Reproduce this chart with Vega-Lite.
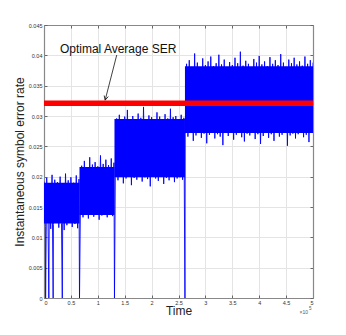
{
 "$schema": "https://vega.github.io/schema/vega-lite/v6.json",
 "width": 269, "height": 273,
 "autosize": "none",
 "padding": {"left": 44, "top": 25, "right": 33, "bottom": 37},
 "background": "white",
 "config": {"font": "Liberation Sans", "view": {"stroke": null}},
 "resolve": {"axis": {"x": "independent", "y": "independent"}},
 "layer": [
  {
   "data": {"values": [
    {"a": 0, "b": 66000, "lo": 0.0123, "hi": 0.0190},
    {"a": 66000, "b": 131000, "lo": 0.0137, "hi": 0.0216},
    {"a": 131000, "b": 262000, "lo": 0.0199, "hi": 0.0295},
    {"a": 262000, "b": 500000, "lo": 0.0272, "hi": 0.0382}
   ]},
   "mark": {"type": "rect", "color": "#0000ff"},
   "encoding": {
    "x": {"field": "a", "type": "quantitative",
     "scale": {"domain": [0, 500000], "nice": false, "zero": false},
     "axis": {"orient": "bottom", "values": [0,50000,100000,150000,200000,250000,300000,350000,400000,450000,500000],
      "labelExpr": "'' + (datum.value / 100000)", "grid": true, "gridColor": "#e4e4e4", "gridWidth": 1,
      "tickSize": -3, "tickColor": "#666", "domainColor": "#888", "domainWidth": 1.2, "labelPadding": 5,
      "labelFontSize": 5.5, "labelColor": "#333", "labelFont": "Liberation Sans",
      "title": "Time", "titleFontSize": 12, "titleFontWeight": "normal", "titleColor": "#222", "titlePadding": 0, "titleFont": "Liberation Sans"}},
    "x2": {"field": "b"},
    "y": {"field": "lo", "type": "quantitative",
     "scale": {"domain": [0, 0.045], "nice": false},
     "axis": {"orient": "left", "values": [0,0.005,0.01,0.015,0.02,0.025,0.03,0.035,0.04,0.045], "format": "~g",
      "grid": true, "gridColor": "#e4e4e4", "gridWidth": 1,
      "tickSize": -3, "tickColor": "#666", "domainColor": "#888", "domainWidth": 1.2, "labelPadding": 5,
      "labelFontSize": 5.5, "labelColor": "#333", "labelFont": "Liberation Sans",
      "title": "Instantaneous symbol error rate", "titleFontSize": 12, "titleFontWeight": "normal", "titleColor": "#222", "titlePadding": 2, "titleFont": "Liberation Sans"}},
    "y2": {"field": "hi"}
   }
  },
  {
   "data": {"values": [
    {"t":0,"v":0.0192},{"t":2500,"v":0.0118},{"t":3000,"v":0},{"t":5000,"v":0.0198},{"t":7500,"v":0.0125},{"t":9000,"v":0},{"t":10000,"v":0.0189},{"t":12500,"v":0.0114},{"t":15000,"v":0.0203},{"t":17000,"v":0},{"t":17500,"v":0.0121},{"t":20000,"v":0.0195},{"t":22500,"v":0.0128},{"t":25000,"v":0.0191},{"t":27500,"v":0.0116},{"t":30000,"v":0.0200},{"t":32500,"v":0.0123},{"t":34000,"v":0},{"t":35000,"v":0.0187},{"t":37500,"v":0.0112},{"t":40000,"v":0.0205},{"t":42500,"v":0.0120},{"t":45000,"v":0.0194},{"t":47500,"v":0.0126},{"t":50000,"v":0.0199},{"t":52500,"v":0.0117},{"t":55000,"v":0.0190},{"t":57500,"v":0.0122},{"t":60000,"v":0.0202},{"t":62500,"v":0.0115},{"t":65000,"v":0.0196},{"t":66000,"v":0},
    {"t":67500,"v":0.0137},{"t":70000,"v":0.0218},{"t":72500,"v":0.0133},{"t":75000,"v":0.0226},{"t":77500,"v":0.0140},{"t":80000,"v":0.0214},{"t":82500,"v":0.0131},{"t":85000,"v":0.0232},{"t":87500,"v":0.0138},{"t":90000,"v":0.0220},{"t":92500,"v":0.0134},{"t":95000,"v":0.0224},{"t":97500,"v":0.0142},{"t":100000,"v":0.0217},{"t":102500,"v":0.0129},{"t":105000,"v":0.0235},{"t":107500,"v":0.0136},{"t":110000,"v":0.0221},{"t":112500,"v":0.0139},{"t":115000,"v":0.0228},{"t":117500,"v":0.0133},{"t":120000,"v":0.0219},{"t":122500,"v":0.0141},{"t":125000,"v":0.0230},{"t":127500,"v":0.0135},{"t":130000,"v":0.0223},{"t":131000,"v":0},
    {"t":132500,"v":0.0199},{"t":135000,"v":0.0296},{"t":137500,"v":0.0194},{"t":140000,"v":0.0302},{"t":142500,"v":0.0201},{"t":145000,"v":0.0293},{"t":147500,"v":0.0189},{"t":150000,"v":0.0299},{"t":152500,"v":0.0197},{"t":155000,"v":0.0310},{"t":157500,"v":0.0203},{"t":160000,"v":0.0295},{"t":162500,"v":0.0186},{"t":165000,"v":0.0300},{"t":167500,"v":0.0198},{"t":170000,"v":0.0291},{"t":172500,"v":0.0195},{"t":175000,"v":0.0304},{"t":177500,"v":0.0200},{"t":180000,"v":0.0297},{"t":182500,"v":0.0192},{"t":185000,"v":0.0315},{"t":187500,"v":0.0199},{"t":190000,"v":0.0294},{"t":192500,"v":0.0196},{"t":195000,"v":0.0301},{"t":197500,"v":0.0184},{"t":200000,"v":0.0298},{"t":202500,"v":0.0202},{"t":205000,"v":0.0292},{"t":207500,"v":0.0197},{"t":210000,"v":0.0306},{"t":212500,"v":0.0193},{"t":215000,"v":0.0299},{"t":217500,"v":0.0200},{"t":220000,"v":0.0295},{"t":222500,"v":0.0188},{"t":225000,"v":0.0303},{"t":227500,"v":0.0198},{"t":230000,"v":0.0296},{"t":232500,"v":0.0194},{"t":235000,"v":0.0312},{"t":237500,"v":0.0201},{"t":240000,"v":0.0298},{"t":242500,"v":0.0191},{"t":245000,"v":0.0300},{"t":247500,"v":0.0197},{"t":250000,"v":0.0293},{"t":252500,"v":0.0199},{"t":255000,"v":0.0302},{"t":257500,"v":0.0195},{"t":260000,"v":0.0297},{"t":262000,"v":0},
    {"t":262500,"v":0.0270},{"t":265000,"v":0.0386},{"t":267500,"v":0.0266},{"t":270000,"v":0.0392},{"t":272500,"v":0.0273},{"t":275000,"v":0.0381},{"t":277500,"v":0.0259},{"t":280000,"v":0.0403},{"t":282500,"v":0.0268},{"t":285000,"v":0.0388},{"t":287500,"v":0.0275},{"t":290000,"v":0.0379},{"t":292500,"v":0.0264},{"t":295000,"v":0.0395},{"t":297500,"v":0.0271},{"t":300000,"v":0.0384},{"t":302500,"v":0.0255},{"t":305000,"v":0.0390},{"t":307500,"v":0.0269},{"t":310000,"v":0.0398},{"t":312500,"v":0.0274},{"t":315000,"v":0.0382},{"t":317500,"v":0.0263},{"t":320000,"v":0.0387},{"t":322500,"v":0.0270},{"t":325000,"v":0.0401},{"t":327500,"v":0.0266},{"t":330000,"v":0.0385},{"t":332500,"v":0.0252},{"t":335000,"v":0.0393},{"t":337500,"v":0.0272},{"t":340000,"v":0.0380},{"t":342500,"v":0.0267},{"t":345000,"v":0.0389},{"t":347500,"v":0.0276},{"t":350000,"v":0.0384},{"t":352500,"v":0.0261},{"t":355000,"v":0.0396},{"t":357500,"v":0.0269},{"t":360000,"v":0.0387},{"t":362500,"v":0.0273},{"t":365000,"v":0.0406},{"t":367500,"v":0.0265},{"t":370000,"v":0.0383},{"t":372500,"v":0.0258},{"t":375000,"v":0.0391},{"t":377500,"v":0.0271},{"t":380000,"v":0.0386},{"t":382500,"v":0.0268},{"t":385000,"v":0.0379},{"t":387500,"v":0.0275},{"t":390000,"v":0.0394},{"t":392500,"v":0.0262},{"t":395000,"v":0.0388},{"t":397500,"v":0.0270},{"t":400000,"v":0.0399},{"t":402500,"v":0.0254},{"t":405000,"v":0.0385},{"t":407500,"v":0.0267},{"t":410000,"v":0.0390},{"t":412500,"v":0.0273},{"t":415000,"v":0.0382},{"t":417500,"v":0.0264},{"t":420000,"v":0.0397},{"t":422500,"v":0.0270},{"t":425000,"v":0.0386},{"t":427500,"v":0.0259},{"t":430000,"v":0.0392},{"t":432500,"v":0.0272},{"t":435000,"v":0.0384},{"t":437500,"v":0.0266},{"t":440000,"v":0.0402},{"t":442500,"v":0.0269},{"t":445000,"v":0.0388},{"t":447500,"v":0.0274},{"t":450000,"v":0.0381},{"t":452500,"v":0.0251},{"t":455000,"v":0.0393},{"t":457500,"v":0.0268},{"t":460000,"v":0.0387},{"t":462500,"v":0.0271},{"t":465000,"v":0.0396},{"t":467500,"v":0.0263},{"t":470000,"v":0.0385},{"t":472500,"v":0.0270},{"t":475000,"v":0.0390},{"t":477500,"v":0.0275},{"t":480000,"v":0.0383},{"t":482500,"v":0.0265},{"t":485000,"v":0.0398},{"t":487500,"v":0.0269},{"t":490000,"v":0.0386},{"t":492500,"v":0.0257},{"t":495000,"v":0.0392},{"t":497500,"v":0.0272},{"t":500000,"v":0.0388}
   ]},
   "mark": {"type": "line", "color": "#0000ff", "strokeWidth": 0.9, "clip": true},
   "encoding": {
    "x": {"field": "t", "type": "quantitative", "sort": null, "axis": null},
    "y": {"field": "v", "type": "quantitative", "axis": null}
   }
  },
  {
   "data": {"values": [{"v": 0.0321, "t0": 0, "t1": 500000}]},
   "mark": {"type": "rule", "color": "#ff0000", "strokeWidth": 5.5},
   "encoding": {
    "x": {"field": "t0", "type": "quantitative",
     "axis": {"orient": "top", "values": [0,50000,100000,150000,200000,250000,300000,350000,400000,450000,500000], "labels": false, "grid": false, "title": null, "tickSize": -3, "tickColor": "#666", "domainColor": "#888", "domainWidth": 1.2}},
    "x2": {"field": "t1"},
    "y": {"field": "v", "type": "quantitative",
     "axis": {"orient": "right", "values": [0,0.005,0.01,0.015,0.02,0.025,0.03,0.035,0.04,0.045], "labels": false, "grid": false, "title": null, "tickSize": -3, "tickColor": "#666", "domainColor": "#888", "domainWidth": 1.2}}
   }
  },
  {
   "data": {"values": [{"t": 135200, "v": 0.04005, "t2": 113700, "v2": 0.03262}]},
   "mark": {"type": "rule", "color": "#111", "strokeWidth": 0.8},
   "encoding": {
    "x": {"field": "t", "type": "quantitative", "axis": null},
    "y": {"field": "v", "type": "quantitative", "axis": null},
    "x2": {"field": "t2"}, "y2": {"field": "v2"}
   }
  },
  {
   "data": {"values": [{"t2": 113700, "v2": 0.03262}]},
   "mark": {"type": "point", "shape": "M -0.5 1 L 0 0 L 0.5 1", "filled": false, "stroke": "#111", "strokeWidth": 0.8, "size": 70, "angle": 194.5, "opacity": 1},
   "encoding": {
    "x": {"field": "t2", "type": "quantitative", "axis": null},
    "y": {"field": "v2", "type": "quantitative", "axis": null}
   }
  },
  {
   "data": {"values": [{"label": "Optimal Average SER", "t": 137800, "v": 0.041}]},
   "mark": {"type": "text", "fontSize": 12, "color": "#111", "align": "center", "baseline": "middle", "font": "Liberation Sans"},
   "encoding": {
    "x": {"field": "t", "type": "quantitative", "axis": null},
    "y": {"field": "v", "type": "quantitative", "axis": null},
    "text": {"field": "label"}
   }
  },
  {
   "data": {"values": [{"s": "×10", "t": 500000, "v": 0}]},
   "mark": {"type": "text", "fontSize": 5, "color": "#555", "align": "right", "baseline": "middle", "dx": -5, "dy": 13.5, "font": "Liberation Sans"},
   "encoding": {
    "x": {"field": "t", "type": "quantitative", "axis": null},
    "y": {"field": "v", "type": "quantitative", "axis": null},
    "text": {"field": "s"}
   }
  },
  {
   "data": {"values": [{"s": "5", "t": 500000, "v": 0}]},
   "mark": {"type": "text", "fontSize": 4.5, "color": "#555", "align": "left", "baseline": "middle", "dx": -4, "dy": 11, "font": "Liberation Sans"},
   "encoding": {
    "x": {"field": "t", "type": "quantitative", "axis": null},
    "y": {"field": "v", "type": "quantitative", "axis": null},
    "text": {"field": "s"}
   }
  }
 ]
}
